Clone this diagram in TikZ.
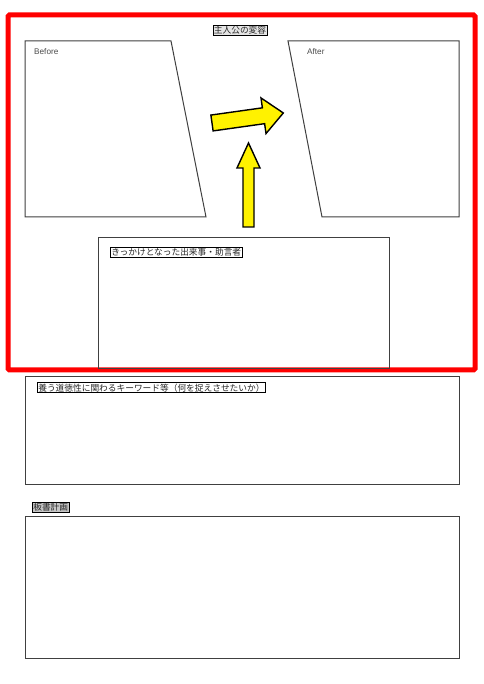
\documentclass[tikz,border=0pt]{standalone}
\usepackage{fontspec}
\setmainfont{Liberation Sans}
\newfontfamily\jp{Noto Sans CJK JP}
\tikzset{
  x=1pt, y=1pt,
  frame/.style={draw=red, line width=5pt, rounded corners=1.5pt},
  panel/.style={draw=black!75, line width=1pt},
  lbl/.style={draw=black, line width=0.6pt, inner xsep=1pt, inner ysep=0.8pt, font=\jp\fontsize{8.7}{9}\selectfont, text=black!85},
  plain/.style={font=\fontsize{8.2}{9}\selectfont, text=black!70, inner sep=0pt},
  yarrow/.style={draw=black, fill=yellow, line width=1.4pt, line join=miter}
}
\begin{document}
\begin{tikzpicture}
\useasboundingbox (0,0) rectangle (483,684);
\fill[white] (0,0) rectangle (483,684);
% red frame
\draw[frame] (8,669) rectangle (475,314);
% title
\node[lbl, fill=gray!20] (title) at (240,653.5) {主人公の変容};
% Before / After trapezoids
\draw[panel] (25,643) -- (171,643) -- (206,467) -- (25,467) -- cycle;
\node[plain, anchor=north west] (before) at (34,636) {Before};
\draw[panel] (288,643) -- (459,643) -- (459,467) -- (322,467) -- cycle;
\node[plain, anchor=north west] (after) at (307,636) {After};
% arrows
\begin{scope}[shift={(212,561)}, rotate=8]
\draw[yarrow] (0,-8) -- (52,-8) -- (52,-18) -- (72,0) -- (52,18) -- (52,8) -- (0,8) -- cycle;
\end{scope}
\draw[yarrow] (243,457) -- (254,457) -- (254,516) -- (260,516) -- (248.5,541) -- (237,516) -- (243,516) -- cycle;
% event box
\draw[panel] (98,446) rectangle (389,315);
\node[lbl, anchor=north west, fill=white] (event) at (110,437) {きっかけとなった出来事・助言者};
% keyword box
\draw[panel] (25,307) rectangle (459,199);
\node[lbl, anchor=north west, fill=white] (kw) at (37,301.5) {養う道徳性に関わるキーワード等（何を捉えさせたいか）};
% board plan
\node[lbl, anchor=north west, fill=gray!45] (board) at (32,181.5) {板書計画};
\draw[panel] (25,167) rectangle (459,25);
\end{tikzpicture}
\end{document}
